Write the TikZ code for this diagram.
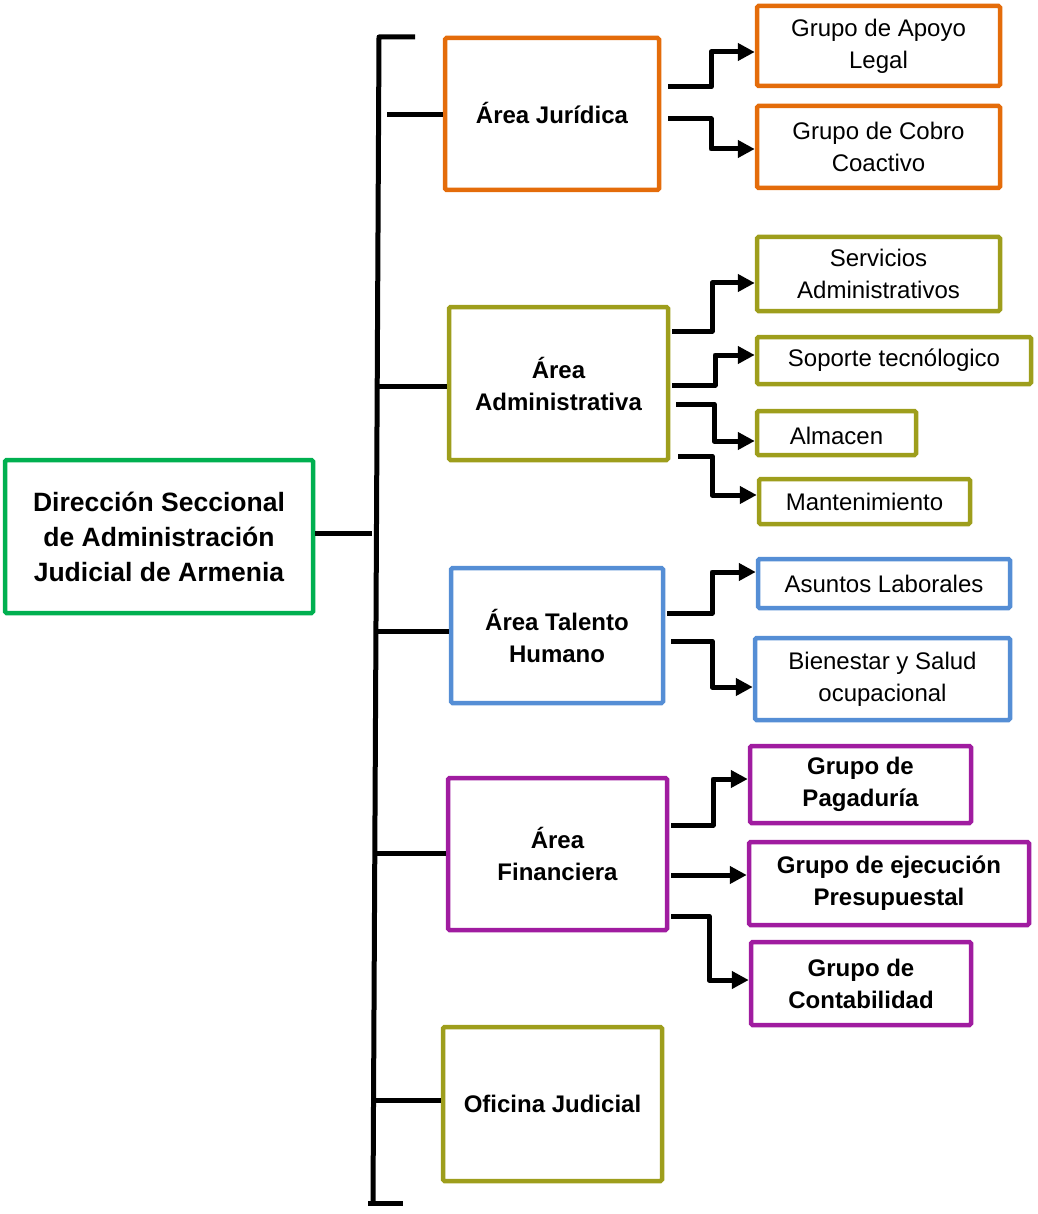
\documentclass[tikz,border=0pt]{standalone}
\usepackage{fontspec}
\setmainfont{Liberation Sans}
\usetikzlibrary{arrows.meta}
\definecolor{cOrange}{RGB}{228,108,10}
\definecolor{cOlive}{RGB}{158,158,28}
\definecolor{cGreen}{RGB}{0,176,80}
\definecolor{cBlue}{RGB}{85,142,213}
\definecolor{cPurple}{RGB}{160,28,160}
\tikzset{
  box/.style={draw=#1, line width=4.5pt, rounded corners=1.5pt, align=center, inner sep=0pt, fill=white},
  subtxt/.style={font=\fontsize{24}{32}\selectfont},
  boldtxt/.style={font=\fontsize{24}{32}\selectfont\bfseries},
  maintxt/.style={font=\fontsize{26.5}{35}\selectfont\bfseries},
  conn/.style={line width=5pt, draw=black, line join=round},
  arr/.style={conn, -{Triangle[length=17pt,width=17pt]}},
}
\begin{document}
\begin{tikzpicture}[x=1pt,y=-1pt]
\useasboundingbox (0,0) rectangle (1037,1214);
% main and area boxes
\node[box=cGreen, maintxt, minimum width=308pt, minimum height=153pt] (main) at (159,536.5) {\raisebox{2pt}{\parbox{300pt}{\centering Dirección Seccional\\de Administración\\Judicial de Armenia}}};
\node[box=cOrange, boldtxt, minimum width=214pt, minimum height=152pt] (jur) at (552,114) {\raisebox{2pt}{Área Jurídica}};
\node[box=cOlive, boldtxt, minimum width=219pt, minimum height=153pt] (adm) at (558.5,383.5) {Área\\Administrativa};
\node[box=cBlue, boldtxt, minimum width=212pt, minimum height=135pt] (tal) at (557,635.5) {Área Talento\\Humano};
\node[box=cPurple, boldtxt, minimum width=219pt, minimum height=152pt] (fin) at (557.5,854) {Área\\Financiera};
\node[box=cOlive, boldtxt, minimum width=219pt, minimum height=154pt] (ofi) at (552.5,1104) {Oficina Judicial};
% sub boxes
\node[box=cOrange, subtxt, minimum width=243pt, minimum height=80pt] (apo) at (878.5,46) {Grupo de Apoyo\\Legal};
\node[box=cOrange, subtxt, minimum width=243pt, minimum height=82pt] (cob) at (878.5,147) {Grupo de Cobro\\Coactivo};
\node[box=cOlive, subtxt, minimum width=243pt, minimum height=74pt] (ser) at (878.5,274) {Servicios\\Administrativos};
\node[box=cOlive, subtxt, minimum width=274pt, minimum height=47pt] (sop) at (894,360.5) {Soporte tecnólogico};
\node[box=cOlive, subtxt, minimum width=159pt, minimum height=44pt, text depth=0pt] (alm) at (836.5,433) {\raisebox{-5pt}{Almacen}};
\node[box=cOlive, subtxt, minimum width=211pt, minimum height=45pt] (man) at (864.5,501.5) {Mantenimiento};
\node[box=cBlue, subtxt, minimum width=252pt, minimum height=49pt] (asu) at (884,583.5) {Asuntos Laborales};
\node[box=cBlue, subtxt, minimum width=255pt, minimum height=82pt] (bie) at (882.5,679) {Bienestar y Salud\\ocupacional};
\node[box=cPurple, boldtxt, minimum width=221pt, minimum height=77pt] (pag) at (860.5,784.5) {Grupo de\\Pagaduría};
\node[box=cPurple, boldtxt, minimum width=280pt, minimum height=83pt] (eje) at (889,883.5) {Grupo de ejecución\\Presupuestal};
\node[box=cPurple, boldtxt, minimum width=220pt, minimum height=83pt] (con) at (861,983.5) {Grupo de\\Contabilidad};
% bracket
\coordinate (btop) at (379,37);
\coordinate (bbot) at (373,1203);
\draw[conn] (415,37) -- (btop) -- (bbot);
\draw[conn] (368,1203) -- (403,1203);
\coordinate (mj) at (372,533);
\draw[conn] (main.east |- mj) -- (mj);
\draw[conn] (387,115) -- (jur.west |- 0,115);
\draw[conn] (378,386) -- (adm.west |- 0,386);
\draw[conn] (377,631) -- (tal.west |- 0,631);
\draw[conn] (375,853) -- (fin.west |- 0,853);
\draw[conn] (373,1100) -- (ofi.west |- 0,1100);
% arrows
\draw[arr] (jur.east |- 0,87) ++(7,0) -| (711,52) -- (apo.west |- 0,52);
\draw[arr] (jur.east |- 0,119) ++(7,0) -| (711,149) -- (cob.west |- 0,149);
\draw[arr] (adm.east |- 0,331) ++(2,0) -| (712,283) -- (ser.west |- 0,283);
\draw[arr] (adm.east |- 0,385) ++(2,0) -| (715,355) -- (sop.west |- 0,355);
\draw[arr] (adm.east |- 0,404) ++(6,0) -| (714,441) -- (alm.west |- 0,441);
\draw[arr] (adm.east |- 0,456) ++(8,0) -| (712,495) -- (man.west |- 0,495);
\draw[arr] (tal.east |- 0,613) ++(2,0) -| (712,572) -- (asu.west |- 0,572);
\draw[arr] (tal.east |- 0,641) ++(6,0) -| (712,687) -- (bie.west |- 0,687);
\draw[arr] (fin.east |- 0,825) ++(2,0) -| (713,779) -- (pag.west |- 0,779);
\draw[arr] (fin.east |- 0,875) ++(2,0) -- (eje.west |- 0,875);
\draw[arr] (fin.east |- 0,916) ++(2,0) -| (709,980) -- (con.west |- 0,980);
\end{tikzpicture}
\end{document}
